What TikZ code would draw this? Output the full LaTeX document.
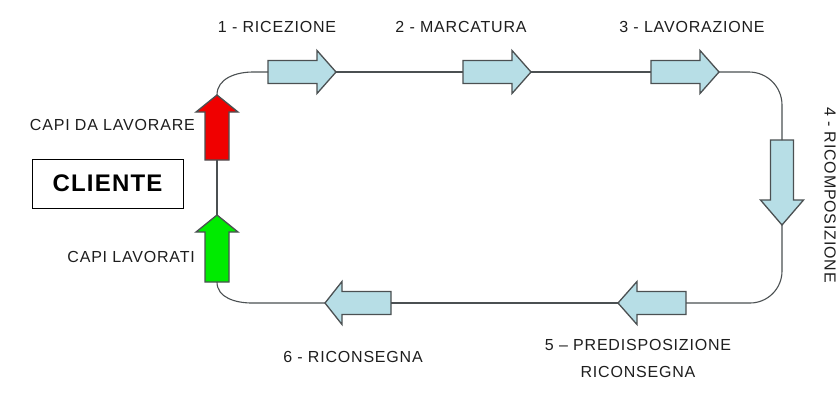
\documentclass[tikz,border=0pt]{standalone}
\usepackage{fontspec}
\setmainfont{Liberation Sans}[LetterSpace=5]
\definecolor{flowblue}{RGB}{183,222,230}
\definecolor{edgegray}{RGB}{75,80,82}
\definecolor{redarr}{RGB}{240,0,0}
\definecolor{greenarr}{RGB}{0,235,0}
\definecolor{txt}{RGB}{30,30,30}
\tikzset{
  arrlen/.store in=\arrlen, arrhead/.store in=\arrhead,
  arrshaft/.store in=\arrshaft, arrwide/.store in=\arrwide,
  arrlen=68, arrhead=19, arrshaft=11.5, arrwide=21.5,
  flowarrow/.pic={
    \coordinate (-tail) at (0,0);
    \coordinate (-tip) at (\arrlen,0);
    \draw[pic actions, line join=miter]
      (0,-\arrshaft) -- ({\arrlen-\arrhead},-\arrshaft) -- ({\arrlen-\arrhead},-\arrwide)
      -- (\arrlen,0) -- ({\arrlen-\arrhead},\arrwide) -- ({\arrlen-\arrhead},\arrshaft)
      -- (0,\arrshaft) -- cycle;
  },
  bluearrow/.style={draw=edgegray, fill=flowblue, line width=1.3pt},
  redarrow/.style={draw=edgegray, fill=redarr, line width=1.3pt},
  greenarrow/.style={draw=edgegray, fill=greenarr, line width=1.3pt},
  loopline/.style={draw=edgegray, line width=1.1pt},
  lbl/.style={font=\fontsize{16}{20}\selectfont, text=txt, inner sep=0pt},
  clientbox/.style={draw=black, line width=0.9pt, minimum width=151pt, minimum height=49pt,
    inner sep=0pt, font=\fontsize{24}{28}\selectfont\bfseries, text=black}
}
\begin{document}
\begin{tikzpicture}[x=1pt, y=-1pt]
\useasboundingbox[fill=white] (0,0) rectangle (840,392);
% arrows
\pic[bluearrow] (a1) at (268,72) {flowarrow};
\pic[bluearrow] (a2) at (463,72) {flowarrow};
\pic[bluearrow] (a3) at (651,72) {flowarrow};
\pic[bluearrow, rotate=-90, arrlen=85, arrhead=25] (a4) at (782,140) {flowarrow};
\pic[bluearrow, rotate=180] (a5) at (686,303) {flowarrow};
\pic[bluearrow, rotate=180, arrlen=66, arrhead=17] (a6) at (391,303) {flowarrow};
\pic[greenarrow, rotate=90, arrlen=67, arrhead=17, arrshaft=12, arrwide=21] (g) at (217,282) {flowarrow};
\pic[redarrow, rotate=90, arrlen=65, arrhead=17, arrshaft=12, arrwide=21] (r) at (217,160) {flowarrow};
% loop
\draw[loopline] (a1-tip) -- (a2-tail);
\draw[loopline] (a2-tip) -- (a3-tail);
\draw[loopline, rounded corners=33pt] (a3-tip) -| (a4-tail);
\draw[loopline, rounded corners=32pt] (a4-tip) |- (a5-tail);
\draw[loopline] (a5-tip) -- (a6-tail);
\draw[loopline] (a6-tip) -- ([xshift=35pt]g-tail |- a6-tip) to[out=180, in=-90] (g-tail);
\draw[loopline] (g-tip) -- (r-tail);
\draw[loopline] (r-tip) to[out=90, in=180] ([xshift=-15pt]a1-tail) -- (a1-tail);
% client
\node[clientbox] (cliente) at (107.5,183.5) {CLIENTE};
% labels
\node[lbl, anchor=east] (lin) at (195,125) {CAPI DA LAVORARE};
\node[lbl, anchor=east] (lout) at (195,257) {CAPI LAVORATI};
\node[lbl] (l1) at (277,27) {1 - RICEZIONE};
\node[lbl] (l2) at (461,27) {2 - MARCATURA};
\node[lbl] (l3) at (692,27) {3 - LAVORAZIONE};
\node[lbl, rotate=-90] (l4) at (830,195) {4 - RICOMPOSIZIONE};
\node[lbl] (l5a) at (638,345) {5 – PREDISPOSIZIONE};
\node[lbl] (l5b) at (638,372) {RICONSEGNA};
\node[lbl] (l6) at (353,357) {6 - RICONSEGNA};
\end{tikzpicture}
\end{document}
